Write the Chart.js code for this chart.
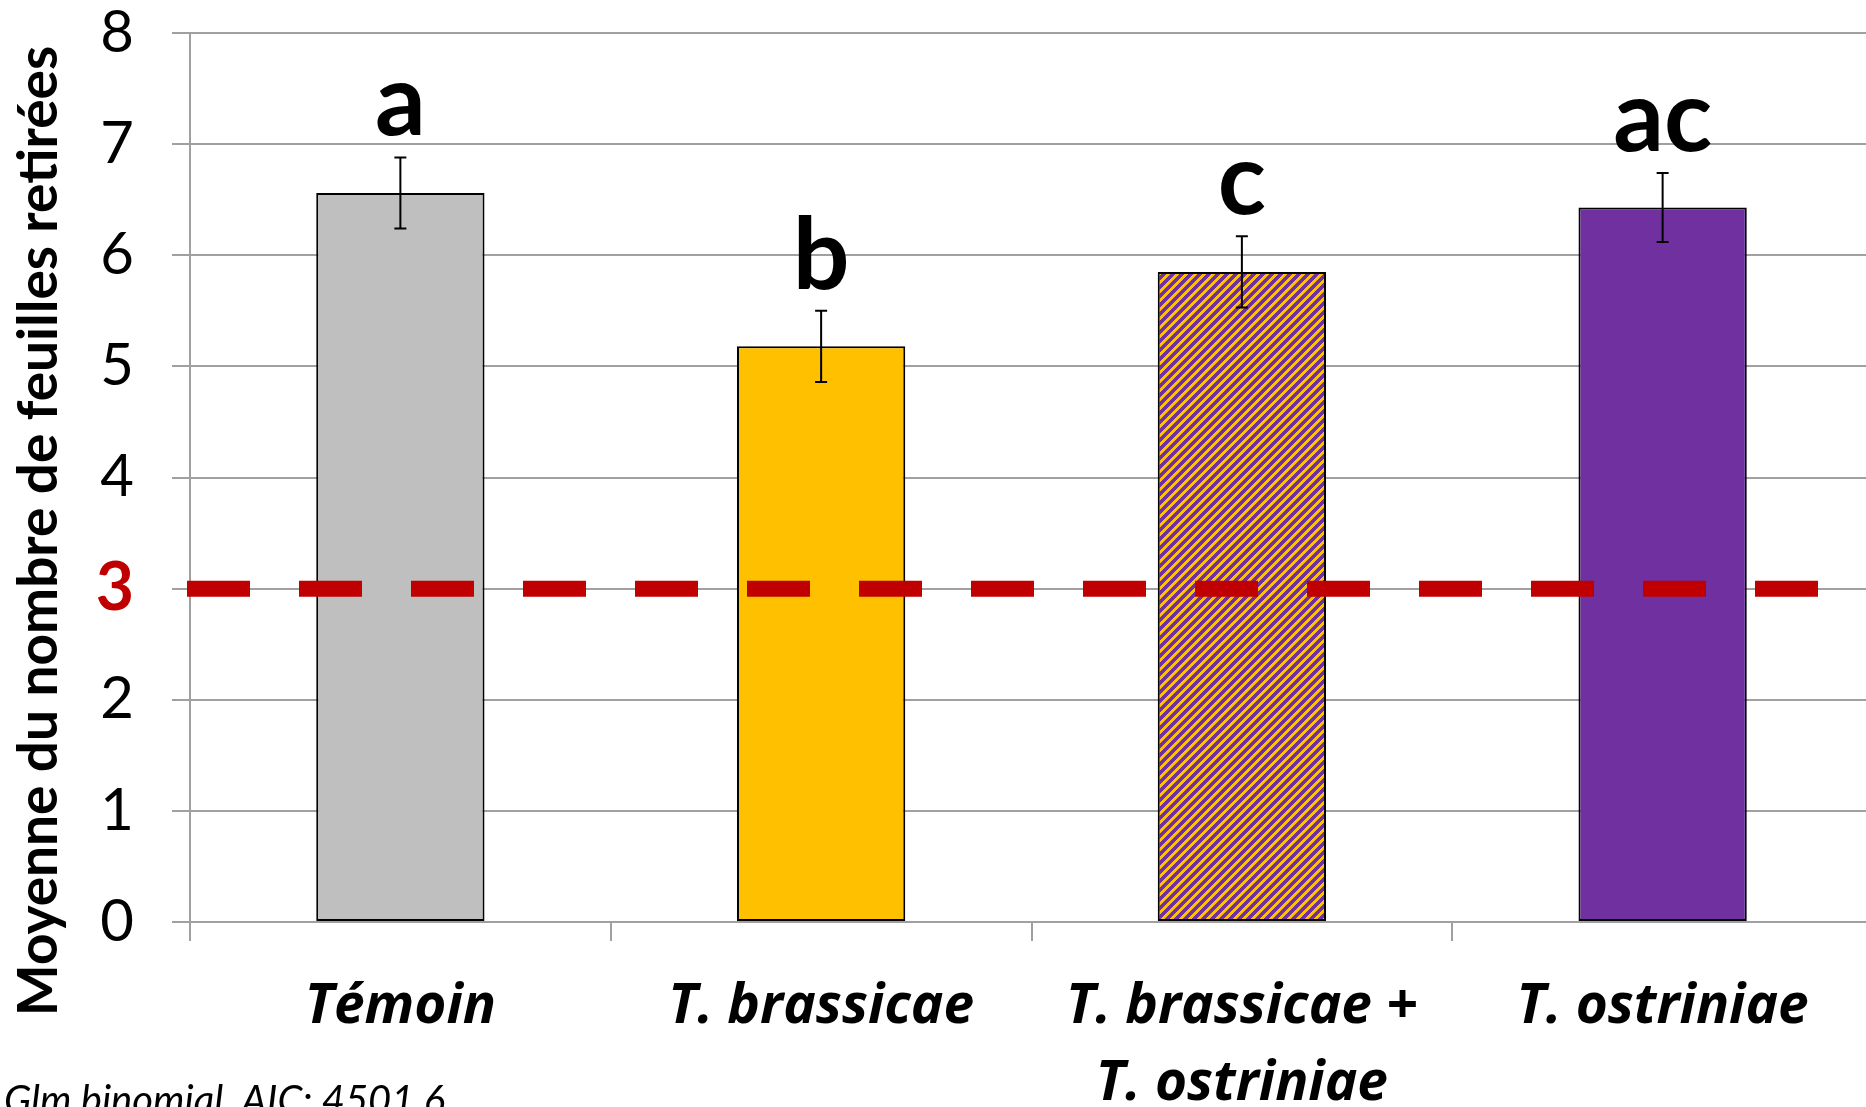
<!DOCTYPE html>
<html>
<head>
<meta charset="utf-8">
<script src="https://cdn.jsdelivr.net/npm/chart.js@4.4.0/dist/chart.umd.min.js"></script>
<style>
  html, body { margin: 0; padding: 0; overflow: hidden; background: #fff; }
  #wrap { width: 1866px; height: 1107px; overflow: hidden; position: relative; }
  #chartLeaves { position: absolute; left: 0; top: 0; }
</style>
</head>
<body>
<div id="wrap"><canvas id="chartLeaves" width="1876" height="1107"></canvas></div>
<script>
const categories = ['Témoin', 'T. brassicae', ['T. brassicae +', 'T. ostriniae'], 'T. ostriniae'];
const meanLeaves = [6.56, 5.18, 5.85, 6.43];
const errLeaves = [0.32, 0.32, 0.32, 0.31];
const groupLetters = ['a', 'b', 'c', 'ac'];
const threshold = 3;
const yMin = 0, yMax = 8, yStep = 1;

const RED = '#C00000';
const GRID = '#A0A0A0';
const FONT = 'Lato, "Open Sans", sans-serif';
const LABEL_FONT = '"Open Sans", Lato, sans-serif';

// purple with yellow "/" stripes for the mixed treatment, pixel by pixel
function stripes() {
  const size = 9;
  const c = document.createElement('canvas');
  c.width = size; c.height = size;
  const g = c.getContext('2d');
  for (let py = 0; py < size; py++) {
    for (let px = 0; px < size; px++) {
      g.fillStyle = (px + py) % size < 4 ? '#FFC000' : '#7030A0';
      g.fillRect(px, py, 1, 1);
    }
  }
  return g.createPattern(c, 'repeat');
}

const extras = {
  id: 'extras',
  afterDatasetsDraw(chart) {
    const ctx = chart.ctx;
    const y = chart.scales.y;
    const meta = chart.getDatasetMeta(0);
    ctx.save();

    // error bars
    ctx.strokeStyle = '#000';
    ctx.lineWidth = 2;
    meta.data.forEach((bar, i) => {
      const top = y.getPixelForValue(meanLeaves[i] + errLeaves[i]);
      const bot = y.getPixelForValue(meanLeaves[i] - errLeaves[i]);
      ctx.beginPath();
      ctx.moveTo(bar.x, top); ctx.lineTo(bar.x, bot);
      ctx.moveTo(bar.x - 6, top); ctx.lineTo(bar.x + 6, top);
      ctx.moveTo(bar.x - 6, bot); ctx.lineTo(bar.x + 6, bot);
      ctx.stroke();
    });

    // significance letters
    ctx.fillStyle = '#000';
    ctx.font = 'bold 100px ' + FONT;
    ctx.textAlign = 'center';
    ctx.textBaseline = 'alphabetic';
    meta.data.forEach((bar, i) => {
      const top = y.getPixelForValue(meanLeaves[i] + errLeaves[i]);
      ctx.fillText(groupLetters[i], bar.x, top - 22);
    });

    // threshold dashed line
    const ty = y.getPixelForValue(threshold);
    ctx.strokeStyle = RED;
    ctx.lineWidth = 16;
    ctx.lineCap = 'butt';
    ctx.setLineDash([63, 49]);
    ctx.beginPath();
    ctx.moveTo(chart.chartArea.left - 3, ty);
    ctx.lineTo(1818, ty);
    ctx.stroke();
    ctx.restore();
  },
  afterDraw(chart) {
    const ctx = chart.ctx;
    ctx.save();
    // y axis title
    ctx.translate(39, 531);
    ctx.rotate(-Math.PI / 2);
    ctx.fillStyle = '#000';
    ctx.font = 'bold 55px ' + FONT;
    ctx.textAlign = 'center';
    ctx.textBaseline = 'middle';
    ctx.fillText('Moyenne du nombre de feuilles retirées', 0, 0);
    ctx.restore();

    // model note, cut by the bottom edge
    ctx.save();
    ctx.fillStyle = '#000';
    ctx.font = 'italic 40px ' + FONT;
    ctx.textAlign = 'left';
    ctx.textBaseline = 'alphabetic';
    ctx.fillText('Glm binomial, AIC: 4501.6', 4, 1114);
    ctx.restore();
  }
};

new Chart(document.getElementById('chartLeaves'), {
  type: 'bar',
  data: {
    labels: categories,
    datasets: [{
      data: meanLeaves,
      backgroundColor: ['#BFBFBF', '#FFC000', stripes(), '#7030A0'],
      borderColor: '#000',
      borderWidth: 2,
      borderSkipped: false,
      barPercentage: 0.4,
      categoryPercentage: 1
    }]
  },
  options: {
    responsive: false,
    animation: false,
    devicePixelRatio: 1,
    layout: { padding: { top: 0, right: 3, left: 0, bottom: 0 } },
    plugins: {
      legend: { display: false },
      tooltip: { enabled: false }
    },
    scales: {
      x: {
        grid: { drawOnChartArea: false, drawTicks: true, tickLength: 19, color: GRID, lineWidth: 2, offset: true },
        border: { color: GRID, width: 2 },
        ticks: {
          color: '#000',
          padding: 28,
          maxRotation: 0,
          autoSkip: false,
          font: { family: LABEL_FONT, size: 55, weight: 'bold', style: 'italic', lineHeight: 1.4 }
        },
        afterFit(scale) {
          scale.height = 185;
          scale.paddingLeft = 0;
          scale.paddingRight = 0;
        }
      },
      y: {
        min: yMin,
        max: yMax,
        grid: { color: GRID, lineWidth: 2, tickLength: 18 },
        border: { color: GRID, width: 2 },
        ticks: {
          stepSize: yStep,
          padding: 38,
          color: c => c.tick && c.tick.value === threshold ? RED : '#000',
          font: c => c.tick && c.tick.value === threshold
            ? { family: FONT, size: 66, weight: 'bold', lineHeight: 1 }
            : { family: FONT, size: 58, weight: 'normal', lineHeight: 1 }
        },
        afterFit(scale) {
          scale.width = 190;
          scale.paddingTop = 33;
          scale.paddingBottom = 0;
        }
      }
    }
  },
  plugins: [extras]
});
</script>
</body>
</html>
